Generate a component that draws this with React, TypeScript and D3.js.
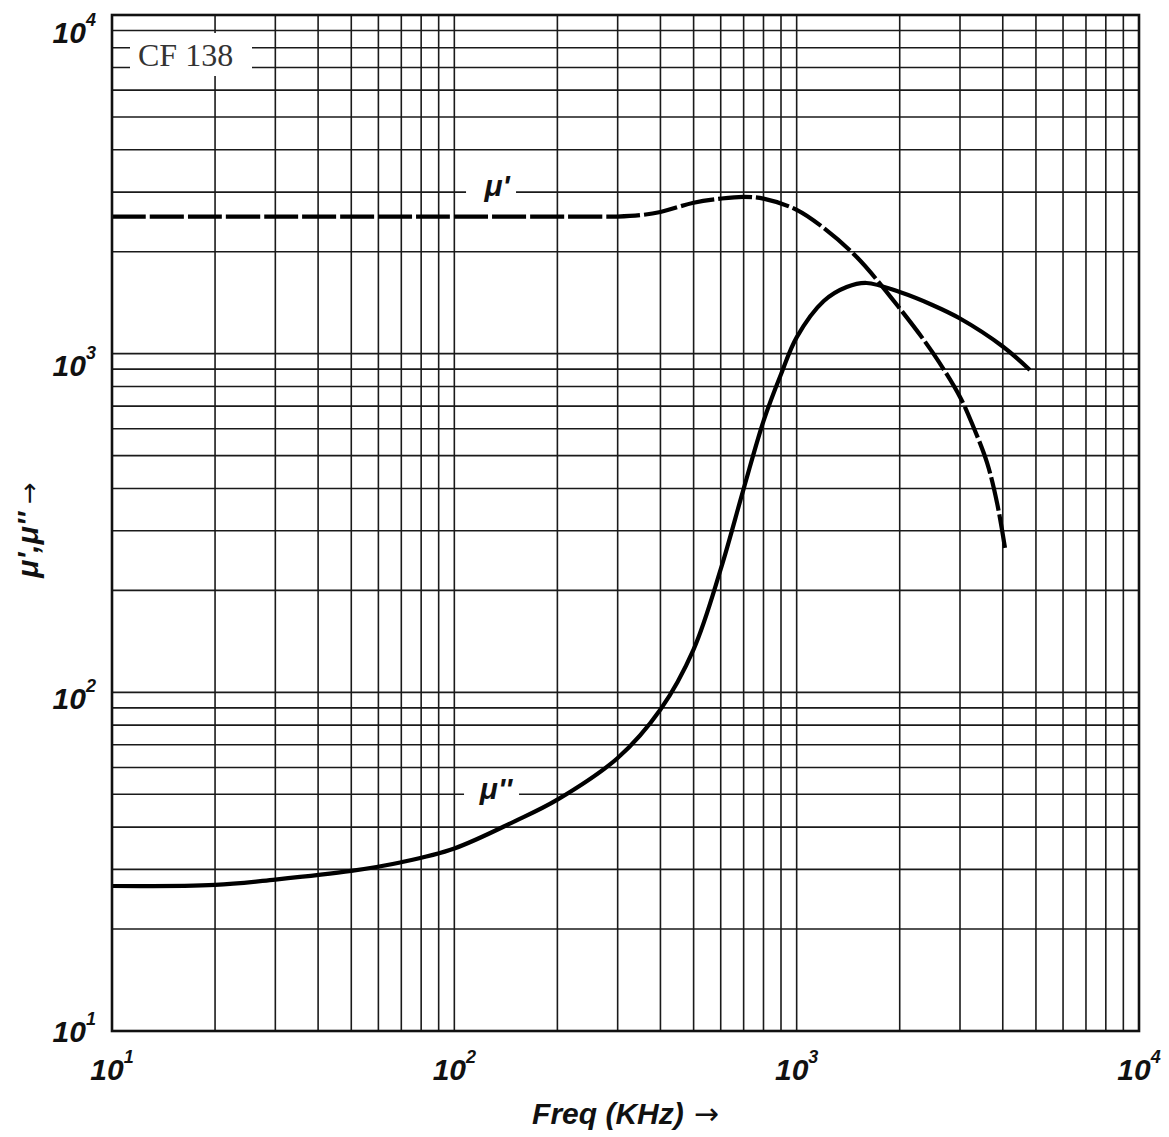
import React from 'react';
import * as d3 from 'd3';

// decade labels (both axes)
const decades = [10, 100, 1000, 10000];
const decadeExp = ['1', '2', '3', '4'];

const muPrimeFreq = [10, 50, 100, 200, 250, 300, 350, 400, 500, 600, 700, 800, 1000, 1200, 1500, 2000, 2500, 3000, 3300, 3600, 3850, 4060];
const muPrimeVal = [2540, 2540, 2540, 2540, 2540, 2540, 2565, 2620, 2790, 2870, 2905, 2870, 2660, 2350, 1925, 1360, 1005, 745, 600, 476, 362, 267];

// mu'' (imaginary part)
const muDoubleFreq = [10, 20, 30, 50, 70, 100, 150, 200, 300, 400, 500, 600, 700, 800, 900, 1000, 1200, 1400, 1600, 2000, 2500, 3000, 4000, 4800];
const muDoubleVal = [26.8, 27.0, 28.0, 29.7, 31.5, 34.6, 41.6, 48.2, 64, 89, 134, 231, 399, 632, 869, 1117, 1430, 1573, 1617, 1520, 1390, 1270, 1050, 895];

const materialLabel = 'CF 138';

const width = 1169;
const height = 1137;
const margin = { top: 15, right: 30, bottom: 106, left: 112 };

const sans = '"Liberation Sans", Arial, Helvetica, sans-serif';
const serif = '"Liberation Serif", "Times New Roman", serif';
const arrowFont = '"DejaVu Sans", sans-serif';

export default function App() {
  const x = d3.scaleLog().domain([10, 10000]).range([margin.left, width - margin.right]);
  const y = d3.scaleLog().domain([10, 10000]).range([height - margin.bottom, margin.top]);

  const gridX = x.ticks();
  const gridY = y.ticks();

  const line = d3.line<[number, number]>()
    .x(d => x(d[0]))
    .y(d => y(d[1]))
    .curve(d3.curveCatmullRom.alpha(0.5));

  const muPrime = muPrimeFreq.map((f, i) => [f, muPrimeVal[i]] as [number, number]);
  const muDouble = muDoubleFreq.map((f, i) => [f, muDoubleVal[i]] as [number, number]);

  const x0 = x.range()[0];
  const x1 = x.range()[1];
  const y0 = y.range()[1];
  const y1 = y.range()[0];

  // label positions on the grid
  const mp = { x: x(128), y: y(3000) };
  const mpp = { x: x(128), y: y(50) };

  return (
    <div style={{ position: 'absolute', left: 0, top: 0 }}>
      <svg width={width} height={height} style={{ display: 'block', background: '#fff' }}>
        {/* grid */}
        <g stroke="#1a1a1a" strokeWidth={1.6}>
          {gridX.map(v => (
            <line key={'gx' + v} x1={x(v)} x2={x(v)} y1={y0} y2={y1} />
          ))}
          {gridY.map(v => (
            <line key={'gy' + v} x1={x0} x2={x1} y1={y(v)} y2={y(v)} />
          ))}
        </g>

        {/* white boxes behind the labels */}
        <rect x={130} y={33} width={122} height={43} fill="#fff" />
        <rect x={mp.x - 25} y={mp.y - 6} width={50} height={12} fill="#fff" />
        <rect x={mpp.x - 27} y={mpp.y - 6} width={55} height={12} fill="#fff" />

        <text x={138} y={66} fontFamily={serif} fontSize={32} fill="#333">{materialLabel}</text>
        <text x={mp.x + 6} y={mp.y + 4} textAnchor="middle" fontFamily={sans} fontSize={30}
          fontWeight="bold" fontStyle="italic" fill="#111">{"μ'"}</text>
        <text x={mpp.x + 5} y={mpp.y + 5} textAnchor="middle" fontFamily={sans} fontSize={30}
          fontWeight="bold" fontStyle="italic" fill="#111">{"μ''"}</text>

        {/* curves */}
        <path d={line(muPrime) || ''} fill="none" stroke="#000" strokeWidth={4.2}
          strokeDasharray="34 4" />
        <path d={line(muDouble) || ''} fill="none" stroke="#000" strokeWidth={4.2} />

        {/* frame */}
        <rect x={x0} y={y0} width={x1 - x0} height={y1 - y0} fill="none" stroke="#111" strokeWidth={2.6} />

        {/* x tick labels */}
        {decades.map((v, i) => (
          <text key={'xl' + v} x={x(v)} y={y1 + 49} textAnchor="middle" fontFamily={sans}
            fontWeight="bold" fontStyle="italic" fill="#111">
            <tspan fontSize={30}>10</tspan>
            <tspan fontSize={18} dy={-17}>{decadeExp[i]}</tspan>
          </text>
        ))}

        {/* y tick labels */}
        {decades.map((v, i) => (
          <text key={'yl' + v} x={96} y={y(v) + 11 + 5.5 * (Math.log10(v) - 1)} textAnchor="end"
            fontFamily={sans} fontWeight="bold" fontStyle="italic" fill="#111">
            <tspan fontSize={30}>10</tspan>
            <tspan fontSize={18} dy={-17}>{decadeExp[i]}</tspan>
          </text>
        ))}

        {/* axis titles */}
        <text x={(x0 + x1) / 2} y={1124} textAnchor="middle" fontFamily={sans} fontSize={30}
          fontWeight="bold" fontStyle="italic" fill="#111">
          Freq (KHz)
          <tspan fontFamily={arrowFont} fontSize={30} fontWeight="normal" fontStyle="normal" dx={10}>→</tspan>
        </text>
        <text transform={`translate(38, 530) rotate(-90)`} textAnchor="middle" fontFamily={sans}
          fontSize={30} fontWeight="bold" fontStyle="italic" fill="#111">
          {"μ',μ''"}
          <tspan fontFamily={arrowFont} fontSize={26} fontWeight="normal" fontStyle="normal" dx={8}>→</tspan>
        </text>
      </svg>
    </div>
  );
}
